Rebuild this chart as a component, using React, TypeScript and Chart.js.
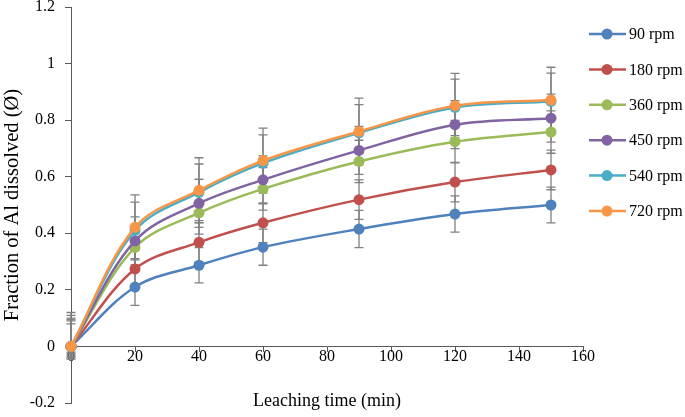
import React, { useEffect, useRef } from "react";
import { Chart, registerables } from "chart.js";

Chart.register(...registerables);

const times = [0, 20, 40, 60, 90, 120, 150];

const rpm90 = [0, 0.21, 0.287, 0.351, 0.415, 0.468, 0.5];
const rpm180 = [0, 0.274, 0.368, 0.437, 0.519, 0.581, 0.624];
const rpm360 = [0, 0.35, 0.472, 0.557, 0.654, 0.724, 0.758];
const rpm450 = [0, 0.373, 0.506, 0.589, 0.693, 0.784, 0.807];
const rpm540 = [0, 0.41, 0.545, 0.648, 0.755, 0.845, 0.866];
const rpm720 = [0, 0.421, 0.552, 0.657, 0.76, 0.851, 0.871];

// error bars as [minus, plus]
const err90 = [[0.02, 0.08], [0.065, 0.065], [0.062, 0.062], [0.064, 0.064], [0.066, 0.066], [0.064, 0.064], [0.063, 0.063]];
const err180 = [[0.025, 0.09], [0.07, 0.07], [0.07, 0.07], [0.07, 0.07], [0.07, 0.07], [0.07, 0.07], [0.07, 0.07]];
const err360 = [[0.03, 0.095], [0.075, 0.075], [0.075, 0.075], [0.075, 0.075], [0.075, 0.075], [0.075, 0.075], [0.075, 0.075]];
const err450 = [[0.035, 0.1], [0.085, 0.085], [0.085, 0.085], [0.085, 0.085], [0.085, 0.085], [0.085, 0.085], [0.085, 0.085]];
const err540 = [[0.04, 0.11], [0.1, 0.1], [0.1, 0.1], [0.1, 0.1], [0.1, 0.1], [0.1, 0.1], [0.1, 0.1]];
const err720 = [[0.045, 0.12], [0.115, 0.115], [0.115, 0.115], [0.115, 0.115], [0.118, 0.118], [0.114, 0.114], [0.116, 0.116]];

const seriesLabels = ["90 rpm", "180 rpm", "360 rpm", "450 rpm", "540 rpm", "720 rpm"];
const seriesValues = [rpm90, rpm180, rpm360, rpm450, rpm540, rpm720];
const seriesErrors = [err90, err180, err360, err450, err540, err720];
const seriesColors = ["#4F81BD", "#C0504D", "#9BBB59", "#8064A2", "#4BACC6", "#F79646"];

const xTitle = "Leaching time (min)";
const yTitle = "Fraction of Al dissolved (Ø)";

const FONT = "'Liberation Serif', 'Times New Roman', serif";
const AXIS_COLOR = "#595959";

const errorBarPlugin = {
  id: "errorBars",
  beforeDatasetsDraw(chart: any) {
    const ctx = chart.ctx;
    const xs = chart.scales.x;
    const ys = chart.scales.y;
    ctx.save();
    ctx.strokeStyle = "#808080";
    ctx.lineWidth = 1.3;
    chart.data.datasets.forEach((ds: any) => {
      const errs = ds.errors as number[][];
      ds.data.forEach((pt: any, j: number) => {
        const x = xs.getPixelForValue(pt.x);
        const yLo = ys.getPixelForValue(pt.y - errs[j][0]);
        const yHi = ys.getPixelForValue(pt.y + errs[j][1]);
        const cap = 4.5;
        ctx.beginPath();
        ctx.moveTo(x, yLo);
        ctx.lineTo(x, yHi);
        ctx.moveTo(x - cap, yLo);
        ctx.lineTo(x + cap, yLo);
        ctx.moveTo(x - cap, yHi);
        ctx.lineTo(x + cap, yHi);
        ctx.stroke();
      });
    });
    ctx.restore();
  },
};

const legendPlugin = {
  id: "sideLegend",
  afterDraw(chart: any) {
    const ctx = chart.ctx;
    const area = chart.chartArea;
    const x0 = area.right + 6;
    const y0 = area.top + 27;
    const step = 35.4;
    ctx.save();
    chart.data.datasets.forEach((ds: any, i: number) => {
      const y = y0 + i * step;
      ctx.strokeStyle = ds.borderColor;
      ctx.lineWidth = 2.5;
      ctx.beginPath();
      ctx.moveTo(x0, y);
      ctx.lineTo(x0 + 37, y);
      ctx.stroke();
      ctx.fillStyle = ds.backgroundColor;
      ctx.beginPath();
      ctx.arc(x0 + 18, y, 5.5, 0, Math.PI * 2);
      ctx.fill();
      ctx.fillStyle = "#000";
      ctx.font = `16px ${FONT}`;
      ctx.textBaseline = "middle";
      ctx.textAlign = "left";
      ctx.fillText(ds.label, x0 + 40, y + 1);
    });
    ctx.restore();
  },
};

export default function App() {
  const ref = useRef<HTMLCanvasElement>(null);
  useEffect(() => {
    if (!ref.current) return;
    const datasets = seriesLabels.map((label, i) => ({
      label,
      data: times.map((t, j) => ({ x: t, y: seriesValues[i][j] })),
      errors: seriesErrors[i],
      borderColor: seriesColors[i],
      backgroundColor: seriesColors[i],
      pointBackgroundColor: seriesColors[i],
      pointBorderColor: seriesColors[i],
      pointRadius: 5.5,
      pointBorderWidth: 0,
      borderWidth: 2.5,
      tension: 0.35,
      fill: false,
      clip: false,
      order: -i,
    }));
    const chart = new Chart(ref.current, {
      type: "line",
      data: { datasets } as any,
      plugins: [errorBarPlugin, legendPlugin],
      options: {
        responsive: false,
        animation: false,
        devicePixelRatio: 1,
        layout: { padding: { left: 0, right: 102, top: 7, bottom: 14 } },
        plugins: { legend: { display: false }, tooltip: { enabled: false } },
        scales: {
          x: {
            type: "linear",
            position: { y: 0 } as any,
            min: 0,
            max: 160,
            ticks: {
              stepSize: 20,
              color: "#000",
              padding: -4,
              font: { family: FONT, size: 16 },
              maxRotation: 0,
            },
            grid: {
              display: true,
              drawOnChartArea: false,
              drawTicks: true,
              tickLength: 5,
              color: AXIS_COLOR,
            },
            border: { display: true, color: AXIS_COLOR, width: 1 },
            title: {
              display: true,
              text: xTitle,
              color: "#000",
              font: { family: FONT, size: 18 },
              padding: { top: 28, bottom: 0 },
            },
          },
          y: {
            type: "linear",
            min: -0.2,
            max: 1.2,
            afterFit: (scale: any) => {
              scale.width = 71;
              scale.paddingTop = 0;
              scale.paddingBottom = 0;
            },
            ticks: {
              stepSize: 0.2,
              color: "#000",
              padding: 10,
              font: { family: FONT, size: 16 },
              callback: (v: any) => String(Math.round(Number(v) * 10) / 10),
            },
            grid: {
              display: true,
              drawOnChartArea: false,
              drawTicks: true,
              tickLength: 6,
              color: AXIS_COLOR,
            },
            border: { display: true, color: AXIS_COLOR, width: 1 },
            title: {
              display: true,
              text: yTitle,
              color: "#000",
              font: { family: FONT, size: 20.5 },
              padding: { top: 0, bottom: 0 },
            },
          },
        },
      } as any,
    });
    return () => chart.destroy();
  }, []);
  return (
    <div style={{ position: "fixed", left: 0, top: 0, width: 685, height: 417, background: "#fff" }}>
      <canvas ref={ref} width={685} height={417} style={{ display: "block" }} />
    </div>
  );
}
